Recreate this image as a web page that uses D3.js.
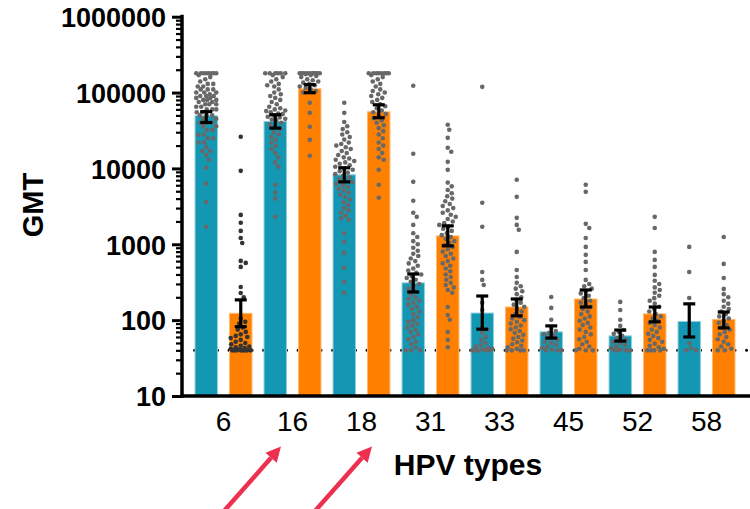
<!DOCTYPE html>
<html>
<head>
<meta charset="utf-8">
<script src="https://cdn.jsdelivr.net/npm/d3@7"></script>
<style>
  body { margin: 0; background: #fff; }
  text { font-family: "Liberation Sans", Arial, Helvetica, sans-serif; }
</style>
</head>
<body>
<div id="chart"></div>
<script>
const w = 750;
const h = 509;

const types = ["6", "16", "18", "31", "33", "45", "52", "58"];
const yTicks = [10, 100, 1000, 10000, 100000, 1000000];
const lod = 40;

// geometric mean titres with 95% CI, blue series then orange series
const gmtA = [49400, 41600, 8240, 310, 124, 70, 62, 96];
const loA = [40300, 34000, 6650, 235, 76, 58, 53, 60];
const hiA = [56000, 50900, 10200, 406, 208, 84, 74, 164];
const gmtB = [123, 112000, 55800, 1290, 149, 190, 121, 102];
const loB = [82, 99500, 46600, 953, 114, 149, 95, 79];
const hiB = [185, 127000, 69000, 1750, 190, 250, 149, 128];

// individual titres
const ptsA = [
  [180000,180000,180000,180000,180000,180000,180000,180000,170000,160000,150000,140000,130000,130000,120000,120000,110000,110000,110000,100000,100000,100000,95000,90000,90000,90000,85000,85000,80000,80000,80000,75000,75000,70000,70000,70000,65000,65000,60000,60000,60000,55000,55000,50000,50000,50000,45000,45000,40000,40000,40000,36000,36000,32000,32000,28000,28000,25000,25000,22000,22000,19000,17000,17000,15000,13000,10200,6300,3600,1700],
  [180000,180000,180000,180000,180000,180000,170000,160000,150000,140000,130000,125000,120000,110000,100000,95000,90000,85000,80000,75000,70000,65000,62000,60000,58000,57000,55000,53000,52000,50000,48000,47000,45000,44000,43000,40000,38000,35000,33000,30000,28000,26000,24000,22000,20000,18000,16000,14000,12000,10500,6100,4800,4000,2300],
  [73500,54000,41000,36000,33000,30000,28000,26000,24000,22000,21000,20000,19000,18000,17000,16000,15000,14000,13500,13000,12500,12000,11500,11000,10500,10000,9600,9200,8800,8400,8000,7600,7200,6900,6600,6300,6000,5700,5400,5100,4800,4500,4200,3900,3600,3300,3000,2800,2600,2400,2200,2100,1400,1080,770,490,320,230],
  [123000,15600,6650,3740,2600,2300,1800,1400,1250,1100,1000,900,820,750,700,650,600,560,520,480,450,420,400,380,360,340,320,300,280,260,240,220,200,190,180,170,160,150,140,130,120,110,100,95,90,85,80,75,70,65,60,56,52,48,44,40,40,40],
  [119000,3520,1700,432,339,291,169,136,80,75,68,60,55,50,47,45,43,42,41,40,40,40,40,40],
  [202,145,101,79,72,68,65,62,58,55,52,50,47,45,43,41,40,40,40],
  [174,136,101,84,74,70,66,62,58,55,52,50,47,45,43,41,40,40,40,40],
  [924,432,196,50,43,40,40]
];
const ptsB = [
  [26100,9290,2440,1920,1500,1210,1040,604,568,503,274,228,200,105,95,90,80,75,70,65,62,60,58,55,52,50,48,46,45,44,43,42,41,40,40,40,40,40,40,40,40],
  [180000,180000,180000,180000,180000,180000,180000,180000,180000,180000,175000,170000,165000,160000,150000,145000,140000,135000,130000,125000,120000,115000,110000,105000,100000,73500,54200,35400,23800,14700],
  [180000,180000,180000,180000,180000,180000,180000,180000,170000,160000,150000,140000,130000,120000,110000,105000,100000,95000,90000,85000,80000,75000,70000,66000,62000,58000,55000,52000,49000,46000,43000,40000,37000,34000,31000,28000,25000,22000,20000,18000,16000,14000,13000,9570,6080,4100],
  [37600,32300,25300,18700,16600,12200,9570,6500,5800,5200,4700,4300,4000,3700,3400,3200,3000,2800,2600,2450,2300,2150,2000,1900,1800,1700,1600,1500,1400,1320,1250,1180,1100,1040,980,920,860,800,750,700,650,600,560,520,480,440,400,370,340,310,290,270,250,230,149,117,101,70,55,44],
  [7080,4220,2230,1800,1550,794,459,371,310,280,260,240,220,200,185,170,160,150,140,130,120,110,105,100,95,90,85,80,76,72,68,64,60,57,54,51,48,46,44,42,40,40,40,40],
  [6080,4910,1860,1640,1210,924,725,586,459,339,300,280,260,240,225,210,195,180,170,160,150,140,130,120,112,105,98,92,86,80,75,70,65,60,56,52,48,45,42,40,40,40],
  [2300,1640,794,622,503,395,330,300,270,250,230,210,195,180,165,150,140,130,120,112,105,98,92,86,80,75,70,66,62,58,55,52,49,46,44,42,40,40,40,40],
  [1250,551,360,258,220,200,180,165,150,140,130,120,112,105,98,92,86,80,75,70,65,60,56,52,48,45,42,40,40]
];

// arrows pointing at the x labels
const arrows = [{type: "16", dx: -11.5}, {type: "18", dx: 10.5}];

const colors = ["#1497b3", "#ff8000"];
const edges = ["#8ccfdd", "#ffb870"];
const dotColors = ["#686868", "#686868"];

const rows = [];
types.forEach((t, i) => {
  rows.push({type: t, s: 0, gmt: gmtA[i], lo: loA[i], hi: hiA[i], pts: ptsA[i]});
  rows.push({type: t, s: 1, gmt: gmtB[i], lo: loB[i], hi: hiB[i], pts: ptsB[i]});
});

const svg = d3.select("#chart").append("svg")
  .attr("width", w).attr("height", h)
  .style("background", "#fff");

const axisX = 182;
const baseY = 396;

const y = d3.scaleLog().domain([10, 1000000]).range([baseY, 16.7]);
const x = d3.scaleBand().domain(types).range([189, 741]);
const xs = d3.scaleBand().domain([0, 1]).range([0, x.bandwidth()])
  .paddingInner(0.35).paddingOuter(0.175);

const barX = (d) => x(d.type) + xs(d.s);
const bw = xs.bandwidth();

// limit of detection, dotted, behind the bars
const step = xs.step();
svg.append("line")
  .attr("x1", barX(rows[0]) - 0.5).attr("x2", w)
  .attr("y1", y(lod)).attr("y2", y(lod))
  .style("stroke", "#000")
  .style("stroke-width", 3)
  .style("stroke-linecap", "round")
  .style("stroke-dasharray", "0 " + (step / 3));

svg.append("g").selectAll("rect")
  .data(rows)
  .enter()
  .append("rect")
  .attr("x", barX)
  .attr("width", bw)
  .attr("y", (d) => y(d.gmt))
  .attr("height", (d) => baseY - y(d.gmt))
  .style("fill", (d) => colors[d.s])
  .style("stroke", (d) => edges[d.s])
  .style("stroke-width", 1);

// deterministic beeswarm inside each bar
const r = 2.3;
function swarm(values) {
  const minD = 5.2;
  const half = 10;
  const cands = [0];
  for (let k = 0.5; k <= half; k += 0.5) cands.push(k, -k);
  const placed = [];
  values.map((v) => ({v: v, py: y(v)}))
    .sort((a, b) => a.py - b.py)
    .forEach((p) => {
      let best = 0;
      let bestD = -1;
      for (const dx of cands) {
        let md = Infinity;
        placed.forEach((q) => {
          if (Math.abs(q.py - p.py) < minD) md = Math.min(md, Math.hypot(q.dx - dx, q.py - p.py));
        });
        if (md >= minD) { best = dx; break; }
        if (md > bestD) { bestD = md; best = dx; }
      }
      p.dx = best;
      placed.push(p);
    });
  return placed;
}

rows.forEach((d, i) => {
  const cx = barX(d) + bw / 2;
  const dotFill = (d.type === "6" && d.s === 1) ? "#333" : dotColors[d.s];
  svg.append("g").selectAll("circle")
    .data(swarm(d.pts))
    .enter()
    .append("circle")
    .attr("cx", (p) => cx + p.dx)
    .attr("cy", (p) => p.py)
    .attr("r", r)
    .style("fill", dotFill);
});

// error bars
const err = svg.append("g").style("stroke", "#000").style("stroke-width", 3.2);
rows.forEach((d) => {
  const cx = barX(d) + bw / 2;
  err.append("line").attr("x1", cx).attr("x2", cx).attr("y1", y(d.lo)).attr("y2", y(d.hi));
  [d.lo, d.hi].forEach((v) => {
    err.append("line").attr("x1", cx - 6).attr("x2", cx + 6).attr("y1", y(v)).attr("y2", y(v));
  });
});

// y axis
const yAxis = svg.append("g").attr("transform", `translate(${axisX},0)`)
  .call(d3.axisLeft(y).tickValues(yTicks).tickFormat(d3.format("d")).tickSize(10).tickSizeOuter(0).tickPadding(6));
yAxis.select(".domain").remove();
yAxis.selectAll(".tick line").style("stroke", "#000").style("stroke-width", 3);
yAxis.selectAll(".tick text")
  .attr("dy", "0.36em")
  .style("font-size", "27px")
  .style("font-weight", "bold")
  .style("fill", "#000");

const minor = y.ticks().filter((v) => !yTicks.includes(v));
const yMinor = svg.append("g").attr("transform", `translate(${axisX},0)`)
  .call(d3.axisLeft(y).tickValues(minor).tickFormat("").tickSize(6).tickSizeOuter(0));
yMinor.select(".domain").remove();
yMinor.selectAll(".tick line").style("stroke", "#000").style("stroke-width", 2.2);

svg.append("line")
  .attr("x1", axisX).attr("x2", axisX)
  .attr("y1", y(1000000) - 2).attr("y2", baseY + 1.75)
  .style("stroke", "#000").style("stroke-width", 3.5);

// x axis
svg.append("line")
  .attr("x1", axisX - 1.75).attr("x2", w)
  .attr("y1", baseY).attr("y2", baseY)
  .style("stroke", "#000").style("stroke-width", 3.5);

svg.append("g").selectAll("text")
  .data(types)
  .enter()
  .append("text")
  .attr("x", (t) => x(t) + x.bandwidth() / 2)
  .attr("y", 431)
  .attr("text-anchor", "middle")
  .style("font-size", "28px")
  .style("fill", "#000")
  .text((t) => t);

svg.append("text")
  .attr("transform", "translate(43,205) rotate(-90)")
  .attr("text-anchor", "middle")
  .style("font-size", "29px")
  .style("font-weight", "bold")
  .text("GMT");

svg.append("text")
  .attr("x", (axisX + w) / 2 + 2)
  .attr("y", 475)
  .attr("text-anchor", "middle")
  .style("font-size", "30px")
  .style("font-weight", "bold")
  .text("HPV types");

// red arrows
const red = "#ee3050";
arrows.forEach((a) => {
  const tx = x(a.type) + x.bandwidth() / 2 + a.dx;
  const ty = 446.5;
  const vx = -53, vy = 60;
  const len = Math.hypot(vx, vy);
  const ux = vx / len, uy = vy / len;
  const headL = 15, headW = 7.5;
  const bx = tx + ux * headL, by = ty + uy * headL;
  svg.append("line")
    .attr("x1", bx).attr("y1", by)
    .attr("x2", tx + ux * 90).attr("y2", ty + uy * 90)
    .style("stroke", red).style("stroke-width", 4.5);
  svg.append("path")
    .attr("d", `M${tx},${ty}L${bx - uy * headW},${by + ux * headW}L${bx + uy * headW},${by - ux * headW}Z`)
    .style("fill", red);
});
</script>
</body>
</html>
